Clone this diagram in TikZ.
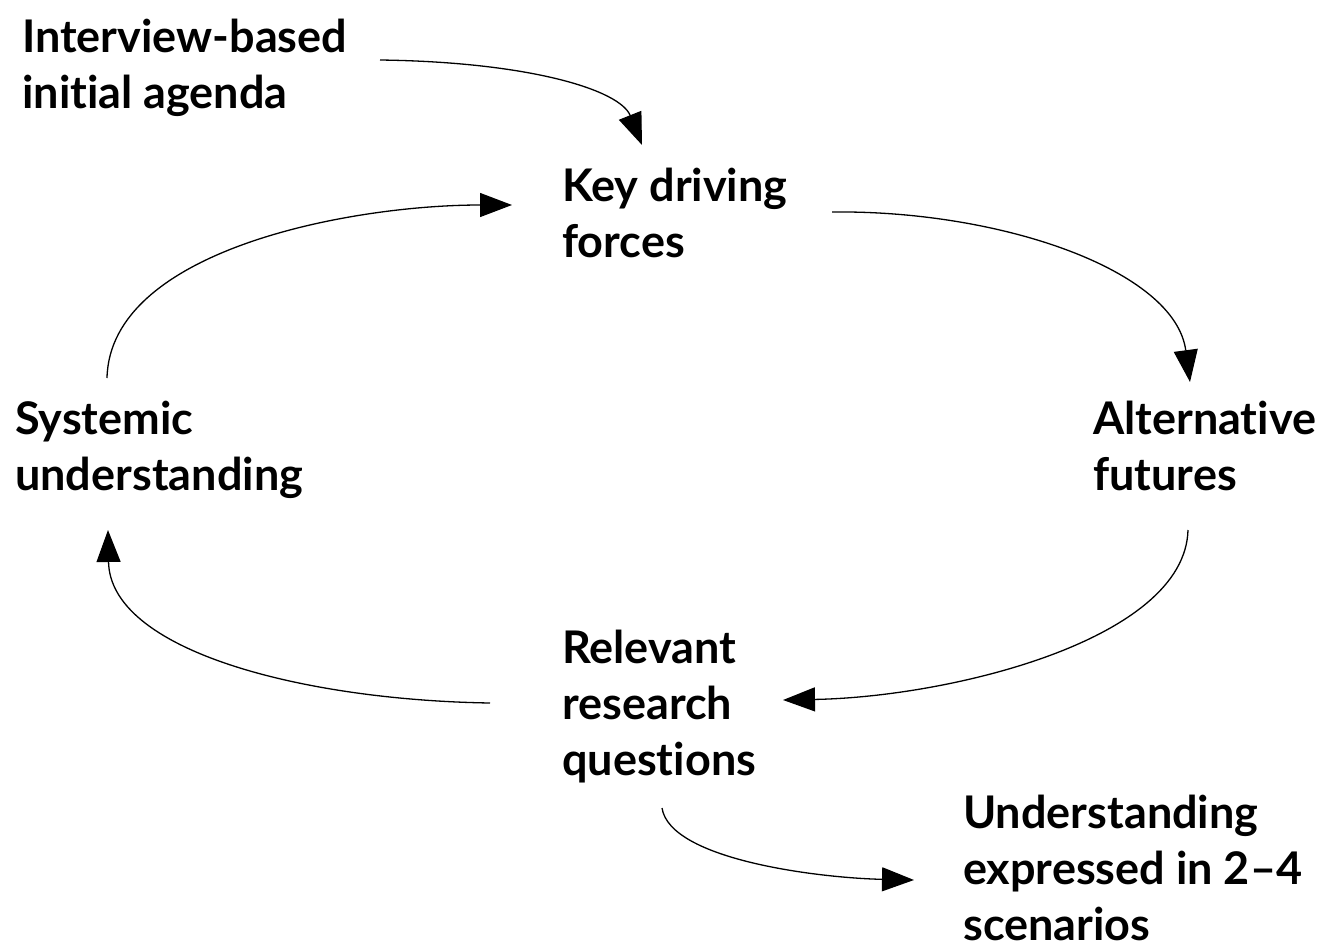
\documentclass[tikz,border=0pt]{standalone}
\usepackage{fontspec}
\setmainfont{Lato}[Ligatures={NoCommon,NoRare}]
\usetikzlibrary{arrows.meta}
\begin{document}
\begin{tikzpicture}[x=1pt,y=-1pt,
  label text/.style={font=\bfseries\fontsize{45}{56}\selectfont, align=left, anchor=base west, inner sep=0pt},
  flow/.style={line width=1.3pt, -{Triangle[length=32pt,width=24pt]}}]
\useasboundingbox (0,0) rectangle (1328,945);

% stage labels (placed by the baseline of their last line)
\node[label text] (agenda) at (22,108) {Interview-based\\initial agenda};
\node[label text] (forces) at (562,257) {Key driving\\forces};
\node[label text] (systemic) at (15,490) {Systemic\\understanding};
\node[label text] (futures) at (1093,490) {Alternative\\futures};
\node[label text] (questions) at (562,775) {Relevant\\research\\questions};
\node[label text] (scenarios) at (963,940) {Understanding\\expressed in 2--4\\scenarios};

% connector end points beside the labels
\coordinate (agenda-out) at (380,60);
\coordinate (forces-in) at (642,145);
\coordinate (forces-in2) at (512,205);
\coordinate (forces-out) at (832,212);
\coordinate (futures-in) at (1190,382);
\coordinate (futures-out) at (1188,530);
\coordinate (questions-in) at (783,700);
\coordinate (questions-out) at (490,703);
\coordinate (questions-out2) at (662,808);
\coordinate (systemic-in) at (108,530);
\coordinate (systemic-out) at (107,378);
\coordinate (scenarios-in) at (914,880);

% cycle
\draw[flow] (agenda-out) .. controls (530,62) and (620,90) .. (forces-in);
\draw[flow] (forces-out) .. controls (1000,210) and (1175,270) .. (futures-in);
\draw[flow] (futures-out) .. controls (1185,640) and (950,697) .. (questions-in);
\draw[flow] (questions-out) .. controls (300,700) and (110,650) .. (systemic-in);
\draw[flow] (systemic-out) .. controls (110,250) and (350,205) .. (forces-in2);
\draw[flow] (questions-out2) .. controls (670,860) and (820,878) .. (scenarios-in);
\end{tikzpicture}
\end{document}
